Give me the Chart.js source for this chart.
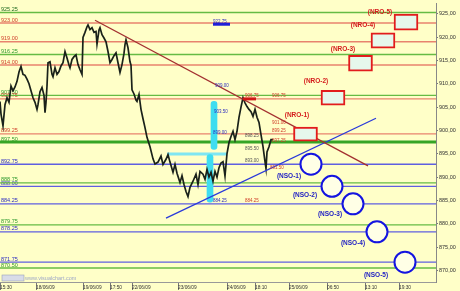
<!DOCTYPE html>
<html>
<head>
<meta charset="utf-8">
<script src="https://cdn.jsdelivr.net/npm/chart.js@4.4.1/dist/chart.umd.min.js"></script>
<style>
  html, body { margin: 0; padding: 0; background: #FFFFC8; }
  #grafico { display: block; }
</style>
</head>
<body>
<canvas id="grafico" width="460" height="291"></canvas>
<script>
// barras (posicao no eixo de tempo) e precos de fecho
const barras = [0, 1, 3, 5, 7, 9, 11, 13, 15, 17, 19, 21, 23, 25, 27, 29, 31, 33, 35, 37, 38, 40, 42, 44, 45, 46, 47, 48, 50, 52,
  53, 55, 57, 59, 61, 63, 65, 67, 69, 70, 72, 74, 76, 78, 80, 82, 83, 85, 87, 88, 90, 92, 94, 96, 97, 99, 100, 102, 104, 106,
  108, 110, 112, 114, 116, 118, 120, 122, 124, 125, 126, 128, 130, 131, 132, 134, 136, 137, 139, 141, 143, 145, 147, 150, 153, 155, 158, 161, 163, 166,
  168, 170, 173, 175, 177, 180, 182, 184, 186, 188, 190, 193, 196, 198, 200, 203, 205, 207, 209, 211, 213, 215, 217, 219, 221, 223, 225, 227, 229, 231,
  233, 235, 237, 239, 241, 243, 245, 247, 249, 251, 253, 255, 257, 259, 261, 263, 265, 266, 267, 269, 271, 273];
const precos = [906.2, 903.5, 901.0, 905.5, 907.0, 906.0, 909.5, 908.5, 909.3, 910.5, 912.5, 913.7, 912.0, 911.8, 911.0, 910.0, 908.5, 907.0, 906.0, 904.5, 905.5, 908.3, 909.2, 907.5, 903.8, 906.0, 909.5, 914.5, 914.7, 912.0,
  911.5, 913.4, 912.0, 912.6, 913.8, 914.5, 916.9, 915.5, 914.0, 913.4, 915.2, 915.8, 916.2, 914.1, 913.0, 912.0, 919.9, 921.0, 922.2, 922.6, 921.6, 922.0, 921.0, 921.2, 918.5, 921.5, 922.0, 920.5, 919.8, 919.0,
  916.9, 914.5, 915.2, 916.0, 916.6, 914.5, 912.4, 914.1, 916.5, 918.4, 919.4, 917.7, 914.7, 914.0, 908.7, 907.8, 906.5, 906.2, 907.7, 904.5, 902.5, 900.6, 898.5, 896.5, 893.9, 892.8, 893.2, 894.5, 892.7, 893.8,
  894.8, 893.2, 891.0, 892.7, 890.8, 888.8, 890.3, 888.4, 886.9, 885.8, 887.8, 889.1, 890.6, 888.4, 891.2, 890.6, 889.5, 891.6, 890.0, 891.0, 889.1, 891.2, 890.0, 892.0, 893.0, 893.3, 890.2, 895.0, 897.4, 898.7,
  899.8, 898.0, 899.8, 902.8, 905.0, 907.0, 905.9, 905.1, 904.5, 904.0, 903.0, 904.5, 902.8, 901.7, 899.1, 896.5, 893.3, 891.8, 895.4, 896.5, 898.0, 898.0];

// niveis horizontais: r = resistencia, s = suporte, p = pivot
const niveis = [925.25, 923.00, 919.00, 916.25, 914.00, 907.50, 906.75, 899.25, 897.50, 892.75, 888.75, 888.00, 884.25, 879.75, 878.25, 871.75, 870.50];
const tipoNivel = ['p', 'r', 'r', 'p', 'r', 'p', 'r', 'r', 'p', 's', 'p', 's', 's', 'p', 's', 's', 'p'];

// eixo x
const xTicksPos = [0, 36, 83, 110, 132, 178, 227, 255, 289, 327, 365, 399];
const xTicksLabels = ['15:30', '18/06/09', '19/06/09', '17:50', '22/06/09', '23/06/09', '24/06/09', '18:10', '25/06/09', '06:50', '13:10', '19:30'];
const yTicks = [870, 875, 880, 885, 890, 895, 900, 905, 910, 915, 920, 925];

// objetivos de resistencia (caixas) e de suporte (circulos)
const nroNomes = ['(NRO-1)', '(NRO-2)', '(NRO-3)', '(NRO-4)', '(NRO-5)'];
const nroBarra = [317.5, 345, 372.5, 395, 418];
const nroTopo = [900.7, 908.6, 916.1, 920.9, 924.9];
const nroBase = [897.7, 905.4, 912.7, 917.6, 921.5];
const nroTextoBarra = [297, 316, 343, 363, 380];
const nroTextoPreco = [903.3, 910.5, 917.4, 922.5, 925.3];

const nsoNomes = ['(NSO-1)', '(NSO-2)', '(NSO-3)', '(NSO-4)', '(NSO-5)'];
const nsoBarra = [311, 332, 353, 377, 405];
const nsoPreco = [892.75, 888.00, 884.25, 878.25, 871.75];
const nsoTextoBarra = [289, 305, 330, 353, 376];
const nsoTextoPreco = [890.1, 886.0, 882.1, 875.9, 868.9];

// linhas de tendencia
const tendBaixa = [[95, 923.6], [368, 892.4]];
const tendAlta = [[166, 881.2], [376, 902.6]];

// marcas de preco pequenas
const marcasTexto = ['922.75', '909.00', '906.75', '906.75', '903.50', '899.00', '898.25', '901.00', '899.25', '897.25', '895.50', '893.00', '891.50', '884.25', '884.25'];
const marcasBarra = [213, 215, 245, 272, 214, 213, 245, 272, 272, 272, 245, 245, 270, 213, 245];
const marcasPreco = [922.75, 909.00, 906.75, 906.75, 903.50, 899.00, 898.25, 901.00, 899.25, 897.25, 895.50, 893.00, 891.50, 884.25, 884.25];
const marcasTipo = ['s', 's', 'r', 'r', 's', 's', 'n', 'r', 'r', 'r', 'n', 'n', 'r', 's', 'r'];

const corLinha = { r: '#E8836E', s: '#5F5FE0', p: '#66BB44' };
const corTexto = { r: '#D0402C', s: '#2C2CC0', p: '#2E9A2E', n: '#555555' };
const fonte = '"Liberation Sans", Arial, sans-serif';

const datasets = [];

niveis.forEach(function(v, i) {
  datasets.push({
    type: 'line',
    data: [{ x: 0, y: v }, { x: 436, y: v }],
    borderColor: v === 897.50 ? '#36A526' : corLinha[tipoNivel[i]],
    borderWidth: v === 897.50 ? 3 : 1.4,
    pointRadius: 0,
    order: 10
  });
});

// zonas ciano
datasets.push({
  type: 'bar',
  data: [{ x: 211, y: [895.9, 906.2] }, { x: 207, y: [884.6, 894.8] }],
  backgroundColor: '#3FDDF0',
  borderWidth: 0,
  barThickness: 6,
  borderRadius: 3,
  borderSkipped: false,
  order: 8
});
datasets.push({
  type: 'line',
  data: [{ x: 167, y: 894.93 }, { x: 227, y: 894.93 }],
  borderColor: '#7FE6F2',
  borderWidth: 3,
  pointRadius: 0,
  order: 8
});

// precos
datasets.push({
  type: 'line',
  data: barras.map(function(b, i) { return { x: b, y: precos[i] }; }),
  borderColor: '#1A221A',
  borderWidth: 1.7,
  pointRadius: 0,
  tension: 0,
  order: 5
});

// marcas grossas
datasets.push({
  type: 'line',
  data: [{ x: 213, y: 922.75 }, { x: 230, y: 922.75 }],
  borderColor: '#1E1ED8', borderWidth: 3, pointRadius: 0, order: 4
});
datasets.push({
  type: 'line',
  data: [{ x: 243, y: 906.75 }, { x: 256, y: 906.75 }],
  borderColor: '#D01818', borderWidth: 3, pointRadius: 0, order: 4
});

// tendencias
datasets.push({
  type: 'line',
  data: tendBaixa.map(function(p) { return { x: p[0], y: p[1] }; }),
  borderColor: '#A33030', borderWidth: 1.3, pointRadius: 0, order: 4
});
datasets.push({
  type: 'line',
  data: tendAlta.map(function(p) { return { x: p[0], y: p[1] }; }),
  borderColor: '#2A3ADA', borderWidth: 1.3, pointRadius: 0, order: 4
});

// caixas NRO
datasets.push({
  type: 'bar',
  data: nroBarra.map(function(b, i) { return { x: b, y: [nroBase[i], nroTopo[i]] }; }),
  backgroundColor: '#E6F7EC',
  borderColor: '#E21C1C',
  borderWidth: 2,
  borderSkipped: false,
  barThickness: 24,
  order: 3
});

// circulos NSO
datasets.push({
  type: 'line',
  data: nsoBarra.map(function(b, i) { return { x: b, y: nsoPreco[i] }; }),
  showLine: false,
  pointRadius: 10.5,
  pointBorderWidth: 2,
  pointBorderColor: '#1414E0',
  pointBackgroundColor: '#FFFFE6',
  order: 2
});

const textos = {
  id: 'textos',
  beforeDraw: function(chart) {
    const c = chart.ctx;
    c.save();
    c.fillStyle = '#FFFFC8';
    c.fillRect(0, 0, chart.width, chart.height);
    c.restore();
  },
  beforeDatasetsDraw: function(chart) {
    const c = chart.ctx, sx = chart.scales.x, sy = chart.scales.y;
    c.save();
    c.font = '5.5px ' + fonte;
    c.textBaseline = 'alphabetic';
    c.textAlign = 'left';
    niveis.forEach(function(v, i) {
      c.fillStyle = v === 925.25 ? '#1F6A1F' : corTexto[tipoNivel[i]];
      c.fillText(v.toFixed(2), sx.getPixelForValue(1), sy.getPixelForValue(v) - 1.5);
    });
    c.restore();
  },
  afterDatasetsDraw: function(chart) {
    const c = chart.ctx, sx = chart.scales.x, sy = chart.scales.y;
    c.save();
    c.textAlign = 'left';
    c.textBaseline = 'alphabetic';
    c.font = '4.5px ' + fonte;
    marcasTexto.forEach(function(t, i) {
      c.fillStyle = corTexto[marcasTipo[i]];
      c.fillText(t, sx.getPixelForValue(marcasBarra[i]), sy.getPixelForValue(marcasPreco[i]) - 1.5);
    });

    c.textAlign = 'center';
    c.textBaseline = 'middle';
    c.font = 'bold 6.5px ' + fonte;
    c.fillStyle = '#D51E1E';
    nroNomes.forEach(function(t, i) {
      c.fillText(t, sx.getPixelForValue(nroTextoBarra[i]), sy.getPixelForValue(nroTextoPreco[i]));
    });
    c.fillStyle = '#2222C4';
    nsoNomes.forEach(function(t, i) {
      c.fillText(t, sx.getPixelForValue(nsoTextoBarra[i]), sy.getPixelForValue(nsoTextoPreco[i]));
    });

    // marca d'agua e botao
    const base = chart.chartArea.bottom;
    c.fillStyle = '#D8DCE8';
    c.fillRect(2, base - 7, 22, 6);
    c.strokeStyle = '#9AA2B8';
    c.lineWidth = 0.6;
    c.strokeRect(2, base - 7, 22, 6);
    c.textAlign = 'left';
    c.font = '5.5px ' + fonte;
    c.fillStyle = '#9FA8C8';
    c.fillText('www.visualchart.com', 25, base - 4);
    c.restore();
  }
};

new Chart(document.getElementById('grafico'), {
  type: 'line',
  data: { datasets: datasets },
  plugins: [textos],
  options: {
    responsive: false,
    animation: false,
    events: [],
    layout: { autoPadding: false, padding: { top: 3, left: 0, right: 0, bottom: 0 } },
    plugins: { legend: { display: false }, tooltip: { enabled: false } },
    scales: {
      x: {
        type: 'linear',
        position: 'bottom',
        min: 0,
        max: 436,
        offset: false,
        afterBuildTicks: function(s) { s.ticks = xTicksPos.map(function(v) { return { value: v }; }); },
        afterFit: function(s) { s.height = 9; s.paddingLeft = 0; s.paddingRight = 0; },
        ticks: {
          autoSkip: false,
          maxRotation: 0,
          minRotation: 0,
          align: 'start',
          padding: -5,
          color: '#333',
          font: { size: 4.8, family: fonte },
          callback: function(v, i) { return xTicksLabels[i]; }
        },
        grid: { drawOnChartArea: false, offset: false, tickLength: 8, color: '#777' },
        border: { color: '#999' }
      },
      y: {
        type: 'linear',
        position: 'right',
        min: 867.5,
        max: 927.3,
        afterBuildTicks: function(s) { s.ticks = yTicks.map(function(v) { return { value: v }; }); },
        afterFit: function(s) { s.width = 24; s.paddingTop = 0; s.paddingBottom = 0; },
        ticks: {
          padding: 1,
          color: '#333',
          font: { size: 5.5, family: fonte },
          callback: function(v) { return v.toFixed(2).replace('.', ','); }
        },
        grid: { drawOnChartArea: false, tickLength: 2, color: '#777' },
        border: { color: '#888' }
      }
    }
  }
});
</script>
</body>
</html>
